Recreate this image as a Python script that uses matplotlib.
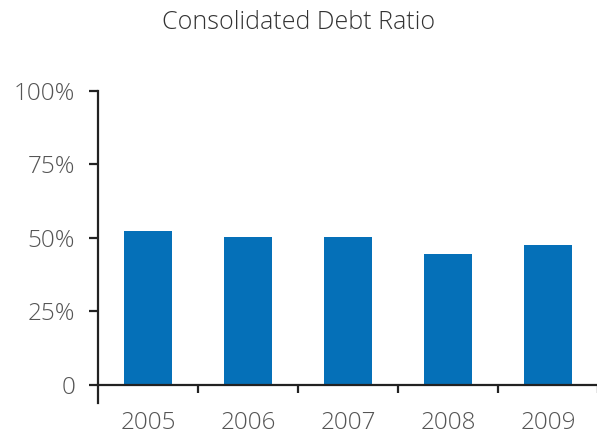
import numpy as np
import matplotlib.pyplot as plt

years = ["2005", "2006", "2007", "2008", "2009"]
debt_ratio = [52.3, 50.3, 50.2, 44.6, 47.6]
y_ticks = [0, 25, 50, 75, 100]
y_labels = ["0", "25%", "50%", "75%", "100%"]

plt.rcParams['font.family'] = ['Open Sans', 'DejaVu Sans']

fig = plt.figure(figsize=(5.97, 4.43), dpi=100)
# axes bottom sits a bit below zero so the left spine runs past the baseline
ax = fig.add_axes([98/597, 1 - 403/443, 500/597, (403 - 90.7)/443])

x = np.arange(len(years))
ax.bar(x, debt_ratio, width=0.48, color='#0570b8', zorder=2)

ax.set_xlim(-0.5, 4.5)
ax.set_ylim(-6.1, 100)

for side in ['top', 'right']:
    ax.spines[side].set_visible(False)
ax.spines['bottom'].set_position(('data', 0))
for side in ['left', 'bottom']:
    ax.spines[side].set_linewidth(1.6)
    ax.spines[side].set_color('#222222')

ax.set_yticks(y_ticks)
ax.set_yticklabels(y_labels)
ax.set_xticks(x + 0.5, minor=False)
ax.set_xticklabels([])
ax.set_xticks(x, minor=True)
ax.set_xticklabels(years, minor=True)

ax.tick_params(axis='y', length=6.5, width=1.6, color='#222222', pad=10,
               labelsize=17.5, labelcolor='#555555')
ax.tick_params(axis='x', which='major', length=6, width=1.6, color='#222222')
ax.tick_params(axis='x', which='minor', length=0, pad=19,
               labelsize=17.5, labelcolor='#555555')
for lab in ax.get_yticklabels() + ax.get_xticklabels(minor=True):
    lab.set_fontweight('light')

fig.text(0.5, 1 - 29/443, "Consolidated Debt Ratio", ha='center', va='baseline',
         fontsize=18, color='#333333', fontweight='light')

fig.savefig("out.png", dpi=100)
